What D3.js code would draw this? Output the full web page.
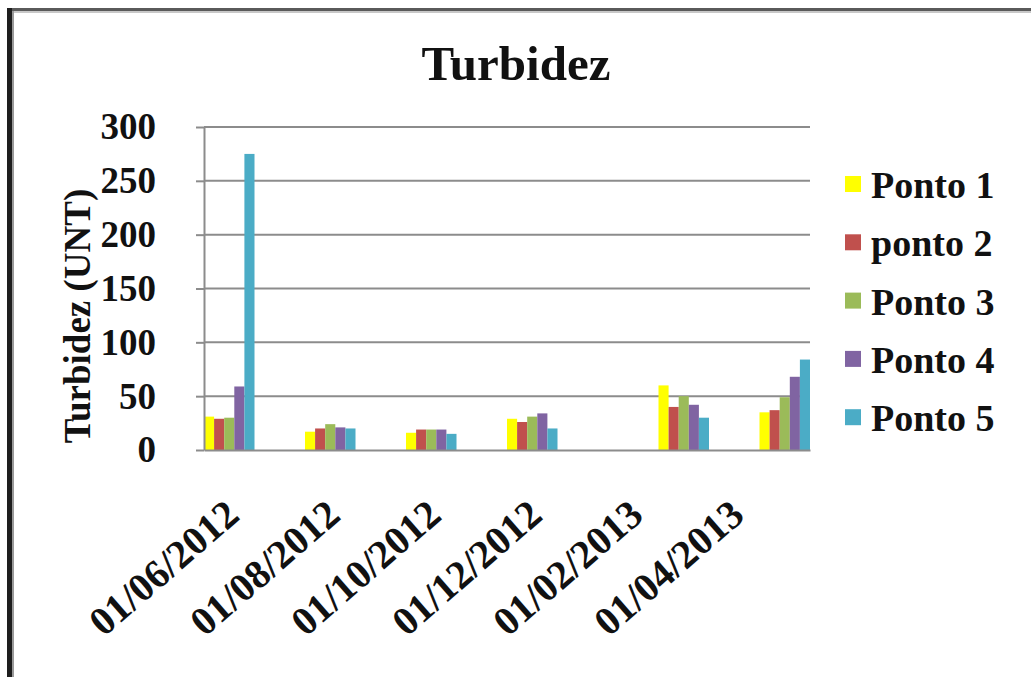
<!DOCTYPE html>
<html>
<head>
<meta charset="utf-8">
<script src="https://cdn.jsdelivr.net/npm/d3@7"></script>
<style>
  html, body { margin: 0; padding: 0; background: #fff; }
  svg { display: block; }
  text { font-family: "Liberation Serif", "Times New Roman", serif; font-weight: bold; fill: #111; }
</style>
</head>
<body>
<svg id="chart" width="1031" height="677"></svg>
<script>
// Monthly slots on the date axis (June 2012 – May 2013)
const months = ["2012-06", "2012-07", "2012-08", "2012-09", "2012-10", "2012-11",
                "2012-12", "2013-01", "2013-02", "2013-03", "2013-04", "2013-05"];
// Sampling campaigns
const sampleMonths = ["2012-06", "2012-08", "2012-10", "2012-12", "2013-03", "2013-05"];
// Turbidity (UNT) per sampling point
const ponto1 = [31, 17, 16, 29, 60, 35];
const ponto2 = [29, 20, 19, 26, 40, 37];
const ponto3 = [30, 24, 19, 31, 50, 49];
const ponto4 = [59, 21, 19, 34, 42, 68];
const ponto5 = [275, 20, 15, 20, 30, 84];
const seriesNames = ["Ponto 1", "ponto 2", "Ponto 3", "Ponto 4", "Ponto 5"];
const seriesColors = ["#FFFF00", "#C0504D", "#9BBB59", "#8064A2", "#4BACC6"];
// Axis labels
const xTickMonths = ["2012-06", "2012-08", "2012-10", "2012-12", "2013-02", "2013-04"];
const yTicks = [0, 50, 100, 150, 200, 250, 300];

const seriesValues = [ponto1, ponto2, ponto3, ponto4, ponto5];

const svg = d3.select("#chart");
const plot = { left: 204, right: 810, top: 127, bottom: 450 };

// Frame edges
svg.append("rect").attr("x", 7).attr("y", 8).attr("width", 1024).attr("height", 3).attr("fill", "#5a5a5a");
svg.append("rect").attr("x", 7).attr("y", 11).attr("width", 1024).attr("height", 2).attr("fill", "#c8c8c8");
svg.append("rect").attr("x", 7).attr("y", 8).attr("width", 5).attr("height", 669).attr("fill", "#1e1e1e");
svg.append("rect").attr("x", 12).attr("y", 11).attr("width", 2).attr("height", 666).attr("fill", "#9a9a9a");

const x = d3.scaleBand().domain(months).range([plot.left, plot.right]).padding(0);
const xInner = d3.scaleBand().domain(d3.range(seriesNames.length)).range([0, x.bandwidth()]).padding(0);
const y = d3.scaleLinear().domain([0, 300]).range([plot.bottom, plot.top]);

// Gridlines
svg.append("g")
  .selectAll("line")
  .data(yTicks.filter(d => d > 0))
  .join("line")
  .attr("x1", plot.left).attr("x2", plot.right)
  .attr("y1", d => y(d)).attr("y2", d => y(d))
  .attr("stroke", "#8c8c8c").attr("stroke-width", 2);

// Bars
const groups = svg.append("g")
  .selectAll("g")
  .data(sampleMonths)
  .join("g")
  .attr("transform", m => `translate(${x(m)},0)`);

groups.selectAll("rect")
  .data((m, i) => seriesValues.map((vals, s) => ({ s, v: vals[i] })))
  .join("rect")
  .attr("x", d => xInner(d.s))
  .attr("width", xInner.bandwidth())
  .attr("y", d => y(d.v))
  .attr("height", d => y(0) - y(d.v))
  .attr("fill", d => seriesColors[d.s]);

// Y axis
const yAxis = svg.append("g")
  .attr("transform", `translate(${plot.left},0)`)
  .call(d3.axisLeft(y).tickValues(yTicks).tickSizeInner(8).tickSizeOuter(0).tickPadding(40));
yAxis.select(".domain").attr("stroke", "#8c8c8c").attr("stroke-width", 2);
yAxis.selectAll(".tick line").attr("stroke", "#8c8c8c").attr("stroke-width", 2);
yAxis.selectAll(".tick text").attr("font-size", 37).attr("fill", "#111")
  .style("font-family", "'Liberation Serif', serif").style("font-weight", "bold");

// X axis
const parseMonth = d3.timeParse("%Y-%m");
const fmt = d3.timeFormat("%d/%m/%Y");
const xAxis = svg.append("g")
  .attr("transform", `translate(0,${plot.bottom})`)
  .call(d3.axisBottom(x).tickValues(xTickMonths).tickSize(0).tickFormat(m => fmt(parseMonth(m))));
xAxis.select(".domain").attr("stroke", "#8c8c8c").attr("stroke-width", 2);
xAxis.selectAll(".tick text")
  .attr("font-size", 40).attr("fill", "#222")
  .style("font-family", "'Liberation Serif', serif").style("font-weight", "bold")
  .attr("text-anchor", "end")
  .attr("dy", 0).attr("y", 0)
  .attr("transform", "translate(12,68) rotate(-41)");

// Title
svg.append("text")
  .attr("x", 516).attr("y", 80)
  .attr("text-anchor", "middle")
  .attr("font-size", 49)
  .text("Turbidez");

// Y axis title
svg.append("text")
  .attr("transform", "translate(90,316) rotate(-90)")
  .attr("text-anchor", "middle")
  .attr("font-size", 37)
  .text("Turbidez (UNT)");

// Legend
const legend = svg.append("g")
  .selectAll("g")
  .data(seriesNames)
  .join("g")
  .attr("transform", (d, i) => `translate(845,${198 + i * 58.3})`);
legend.append("rect")
  .attr("x", 0).attr("y", -22).attr("width", 16).attr("height", 16)
  .attr("fill", (d, i) => seriesColors[i]);
legend.append("text")
  .attr("x", 26).attr("y", 0)
  .attr("font-size", 38)
  .text(d => d);
</script>
</body>
</html>
